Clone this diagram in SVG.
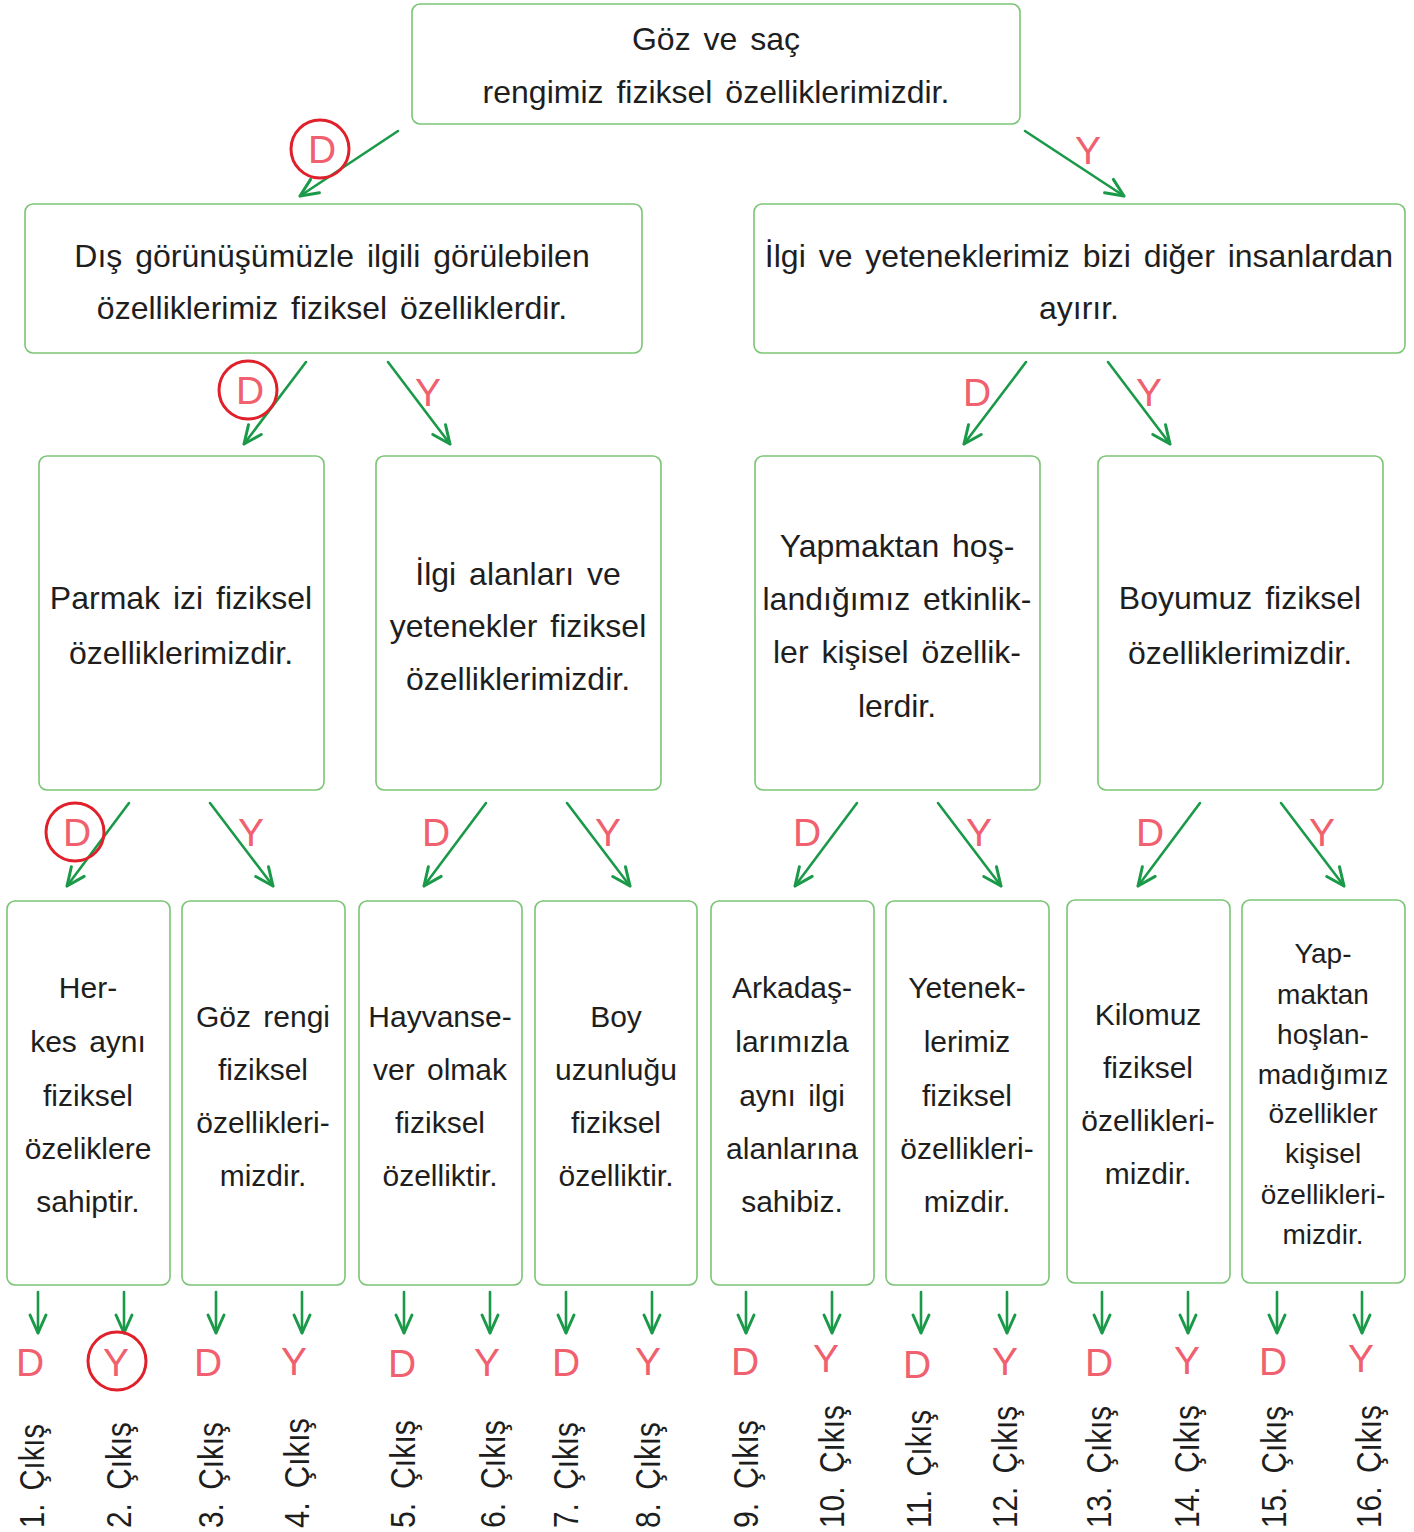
<svg xmlns="http://www.w3.org/2000/svg" width="1414" height="1532" viewBox="0 0 1414 1532">
<style>
.box{fill:#fff;stroke:#7cc576;stroke-width:1.6}
.t{font-family:"Liberation Sans",Arial,sans-serif;fill:#1e1e1e;text-anchor:middle;word-spacing:4px}
.t32{font-size:32px}
.t30{font-size:30px}
.t28{font-size:28px}
.lab{font-family:"Liberation Sans",Arial,sans-serif;font-size:39px;fill:#f0606e;text-anchor:middle}
.out{font-family:"Liberation Sans",Arial,sans-serif;font-size:35px;fill:#1e1e1e;word-spacing:6px}
.ar{stroke:#1a9a48;stroke-width:2.6;fill:none;stroke-linecap:round;marker-end:url(#ah)}
.ring{fill:none;stroke:#e0202a;stroke-width:3}
</style>
<defs>
<marker id="ah" viewBox="-20 -10 22 20" refX="0" refY="0" markerWidth="22" markerHeight="20" markerUnits="userSpaceOnUse" orient="auto">
<path d="M-18,-8 L0,0 L-18,8" fill="none" stroke="#1a9a48" stroke-width="3" stroke-linecap="round" stroke-linejoin="round"/>
</marker>
</defs>
<rect width="1414" height="1532" fill="#fff"/>

<g id="n-root">
<rect class="box" x="412" y="4" width="608" height="120" rx="8"/>
<text class="t t32" x="716" y="50">Göz ve saç</text>
<text class="t t32" x="716" y="103">rengimiz fiziksel özelliklerimizdir.</text>
</g>

<g id="n-l2a">
<rect class="box" x="25" y="204" width="617" height="149" rx="8"/>
<text class="t t32" x="332" y="267">Dış görünüşümüzle ilgili görülebilen</text>
<text class="t t32" x="332" y="319">özelliklerimiz fiziksel özelliklerdir.</text>
</g>
<g id="n-l2b">
<rect class="box" x="754" y="204" width="651" height="149" rx="8"/>
<text class="t t32" x="1079" y="267">İlgi ve yeteneklerimiz bizi diğer insanlardan</text>
<text class="t t32" x="1079" y="319">ayırır.</text>
</g>

<g id="n-l3a">
<rect class="box" x="39" y="456" width="285" height="334" rx="8"/>
<text class="t t32" x="181" y="609">Parmak izi fiziksel</text>
<text class="t t32" x="181" y="664">özelliklerimizdir.</text>
</g>
<g id="n-l3b">
<rect class="box" x="376" y="456" width="285" height="334" rx="8"/>
<text class="t t32" x="518" y="585">İlgi alanları ve</text>
<text class="t t32" x="518" y="637">yetenekler fiziksel</text>
<text class="t t32" x="518" y="690">özelliklerimizdir.</text>
</g>
<g id="n-l3c">
<rect class="box" x="755" y="456" width="285" height="334" rx="8"/>
<text class="t t32" x="897" y="557">Yapmaktan hoş-</text>
<text class="t t32" x="897" y="610">landığımız etkinlik-</text>
<text class="t t32" x="897" y="663">ler kişisel özellik-</text>
<text class="t t32" x="897" y="717">lerdir.</text>
</g>
<g id="n-l3d">
<rect class="box" x="1098" y="456" width="285" height="334" rx="8"/>
<text class="t t32" x="1240" y="609">Boyumuz fiziksel</text>
<text class="t t32" x="1240" y="664">özelliklerimizdir.</text>
</g>

<g id="n-l4-1">
<rect class="box" x="7" y="901" width="163" height="384" rx="8"/>
<text class="t t30" x="88" y="998">Her-</text>
<text class="t t30" x="88" y="1052">kes aynı</text>
<text class="t t30" x="88" y="1106">fiziksel</text>
<text class="t t30" x="88" y="1159">özeliklere</text>
<text class="t t30" x="88" y="1212">sahiptir.</text>
</g>
<g id="n-l4-2">
<rect class="box" x="182" y="901" width="163" height="384" rx="8"/>
<text class="t t30" x="263" y="1027">Göz rengi</text>
<text class="t t30" x="263" y="1080">fiziksel</text>
<text class="t t30" x="263" y="1133">özellikleri-</text>
<text class="t t30" x="263" y="1186">mizdir.</text>
</g>
<g id="n-l4-3">
<rect class="box" x="359" y="901" width="163" height="384" rx="8"/>
<text class="t t30" x="440" y="1027">Hayvanse-</text>
<text class="t t30" x="440" y="1080">ver olmak</text>
<text class="t t30" x="440" y="1133">fiziksel</text>
<text class="t t30" x="440" y="1186">özelliktir.</text>
</g>
<g id="n-l4-4">
<rect class="box" x="535" y="901" width="162" height="384" rx="8"/>
<text class="t t30" x="616" y="1027">Boy</text>
<text class="t t30" x="616" y="1080">uzunluğu</text>
<text class="t t30" x="616" y="1133">fiziksel</text>
<text class="t t30" x="616" y="1186">özelliktir.</text>
</g>
<g id="n-l4-5">
<rect class="box" x="711" y="901" width="163" height="384" rx="8"/>
<text class="t t30" x="792" y="998">Arkadaş-</text>
<text class="t t30" x="792" y="1052">larımızla</text>
<text class="t t30" x="792" y="1106">aynı ilgi</text>
<text class="t t30" x="792" y="1159">alanlarına</text>
<text class="t t30" x="792" y="1212">sahibiz.</text>
</g>
<g id="n-l4-6">
<rect class="box" x="886" y="901" width="163" height="384" rx="8"/>
<text class="t t30" x="967" y="998">Yetenek-</text>
<text class="t t30" x="967" y="1052">lerimiz</text>
<text class="t t30" x="967" y="1106">fiziksel</text>
<text class="t t30" x="967" y="1159">özellikleri-</text>
<text class="t t30" x="967" y="1212">mizdir.</text>
</g>
<g id="n-l4-7">
<rect class="box" x="1067" y="900" width="163" height="383" rx="8"/>
<text class="t t30" x="1148" y="1025">Kilomuz</text>
<text class="t t30" x="1148" y="1078">fiziksel</text>
<text class="t t30" x="1148" y="1131">özellikleri-</text>
<text class="t t30" x="1148" y="1184">mizdir.</text>
</g>
<g id="n-l4-8">
<rect class="box" x="1242" y="900" width="163" height="383" rx="8"/>
<text class="t t28" x="1323" y="963">Yap-</text>
<text class="t t28" x="1323" y="1004">maktan</text>
<text class="t t28" x="1323" y="1044">hoşlan-</text>
<text class="t t28" x="1323" y="1084">madığımız</text>
<text class="t t28" x="1323" y="1123">özellikler</text>
<text class="t t28" x="1323" y="1163">kişisel</text>
<text class="t t28" x="1323" y="1204">özellikleri-</text>
<text class="t t28" x="1323" y="1244">mizdir.</text>
</g>

<g id="connectors">
<line class="ar" x1="398" y1="131" x2="300" y2="196"/>
<line class="ar" x1="1025" y1="131" x2="1124" y2="196"/>
<line class="ar" x1="306" y1="362" x2="244" y2="444"/>
<line class="ar" x1="388" y1="362" x2="450" y2="444"/>
<line class="ar" x1="1026" y1="362" x2="964" y2="444"/>
<line class="ar" x1="1108" y1="362" x2="1170" y2="444"/>
<line class="ar" x1="129" y1="803" x2="67" y2="886"/>
<line class="ar" x1="210" y1="803" x2="273" y2="886"/>
<line class="ar" x1="486" y1="803" x2="424" y2="886"/>
<line class="ar" x1="567" y1="803" x2="630" y2="886"/>
<line class="ar" x1="857" y1="803" x2="795" y2="886"/>
<line class="ar" x1="938" y1="803" x2="1001" y2="886"/>
<line class="ar" x1="1200" y1="803" x2="1138" y2="886"/>
<line class="ar" x1="1281" y1="803" x2="1344" y2="886"/>
<line class="ar" x1="38" y1="1292" x2="38" y2="1333"/>
<line class="ar" x1="124" y1="1292" x2="124" y2="1333"/>
<line class="ar" x1="216" y1="1292" x2="216" y2="1333"/>
<line class="ar" x1="302" y1="1292" x2="302" y2="1333"/>
<line class="ar" x1="404" y1="1292" x2="404" y2="1333"/>
<line class="ar" x1="490" y1="1292" x2="490" y2="1333"/>
<line class="ar" x1="566" y1="1292" x2="566" y2="1333"/>
<line class="ar" x1="652" y1="1292" x2="652" y2="1333"/>
<line class="ar" x1="746" y1="1292" x2="746" y2="1333"/>
<line class="ar" x1="832" y1="1292" x2="832" y2="1333"/>
<line class="ar" x1="921" y1="1292" x2="921" y2="1333"/>
<line class="ar" x1="1007" y1="1292" x2="1007" y2="1333"/>
<line class="ar" x1="1102" y1="1292" x2="1102" y2="1333"/>
<line class="ar" x1="1188" y1="1292" x2="1188" y2="1333"/>
<line class="ar" x1="1277" y1="1292" x2="1277" y2="1333"/>
<line class="ar" x1="1362" y1="1292" x2="1362" y2="1333"/>
</g>

<g id="edge-labels">
<text class="lab" x="322" y="163">D</text>
<circle class="ring" cx="320" cy="149" r="29"/>
<text class="lab" x="1088" y="164">Y</text>
<text class="lab" x="250" y="404">D</text>
<circle class="ring" cx="248" cy="390" r="29"/>
<text class="lab" x="428" y="406">Y</text>
<text class="lab" x="977" y="406">D</text>
<text class="lab" x="1149" y="406">Y</text>
<text class="lab" x="77" y="846">D</text>
<circle class="ring" cx="75" cy="832" r="29"/>
<text class="lab" x="251" y="846">Y</text>
<text class="lab" x="436" y="846">D</text>
<text class="lab" x="608" y="846">Y</text>
<text class="lab" x="807" y="846">D</text>
<text class="lab" x="979" y="846">Y</text>
<text class="lab" x="1150" y="846">D</text>
<text class="lab" x="1322" y="846">Y</text>
</g>

<g id="outcomes">
<text class="lab" x="30" y="1376">D</text>
<text class="lab" x="116" y="1376">Y</text>
<circle class="ring" cx="117" cy="1361" r="29"/>
<text class="lab" x="208" y="1376">D</text>
<text class="lab" x="294" y="1375">Y</text>
<text class="lab" x="402" y="1377">D</text>
<text class="lab" x="487" y="1376">Y</text>
<text class="lab" x="566" y="1376">D</text>
<text class="lab" x="648" y="1375">Y</text>
<text class="lab" x="745" y="1375">D</text>
<text class="lab" x="826" y="1372">Y</text>
<text class="lab" x="917" y="1378">D</text>
<text class="lab" x="1005" y="1375">Y</text>
<text class="lab" x="1099" y="1376">D</text>
<text class="lab" x="1187" y="1374">Y</text>
<text class="lab" x="1273" y="1375">D</text>
<text class="lab" x="1361" y="1372">Y</text>

<text class="out" transform="translate(44,1528) rotate(-90)" textLength="104" lengthAdjust="spacingAndGlyphs">1. Çıkış</text>
<text class="out" transform="translate(131,1528) rotate(-90)" textLength="106" lengthAdjust="spacingAndGlyphs">2. Çıkış</text>
<text class="out" transform="translate(223,1528) rotate(-90)" textLength="106" lengthAdjust="spacingAndGlyphs">3. Çıkış</text>
<text class="out" transform="translate(309,1528) rotate(-90)" textLength="110" lengthAdjust="spacingAndGlyphs">4. Çıkış</text>
<text class="out" transform="translate(415,1528) rotate(-90)" textLength="108" lengthAdjust="spacingAndGlyphs">5. Çıkış</text>
<text class="out" transform="translate(505,1528) rotate(-90)" textLength="108" lengthAdjust="spacingAndGlyphs">6. Çıkış</text>
<text class="out" transform="translate(578,1528) rotate(-90)" textLength="106" lengthAdjust="spacingAndGlyphs">7. Çıkış</text>
<text class="out" transform="translate(660,1528) rotate(-90)" textLength="106" lengthAdjust="spacingAndGlyphs">8. Çıkış</text>
<text class="out" transform="translate(758,1528) rotate(-90)" textLength="108" lengthAdjust="spacingAndGlyphs">9. Çıkış</text>
<text class="out" transform="translate(844,1528) rotate(-90)" textLength="123" lengthAdjust="spacingAndGlyphs">10. Çıkış</text>
<text class="out" transform="translate(931,1528) rotate(-90)" textLength="118" lengthAdjust="spacingAndGlyphs">11. Çıkış</text>
<text class="out" transform="translate(1017,1528) rotate(-90)" textLength="122" lengthAdjust="spacingAndGlyphs">12. Çıkış</text>
<text class="out" transform="translate(1111,1528) rotate(-90)" textLength="122" lengthAdjust="spacingAndGlyphs">13. Çıkış</text>
<text class="out" transform="translate(1199,1528) rotate(-90)" textLength="123" lengthAdjust="spacingAndGlyphs">14. Çıkış</text>
<text class="out" transform="translate(1286,1528) rotate(-90)" textLength="122" lengthAdjust="spacingAndGlyphs">15. Çıkış</text>
<text class="out" transform="translate(1381,1528) rotate(-90)" textLength="123" lengthAdjust="spacingAndGlyphs">16. Çıkış</text>
</g>
</svg>
